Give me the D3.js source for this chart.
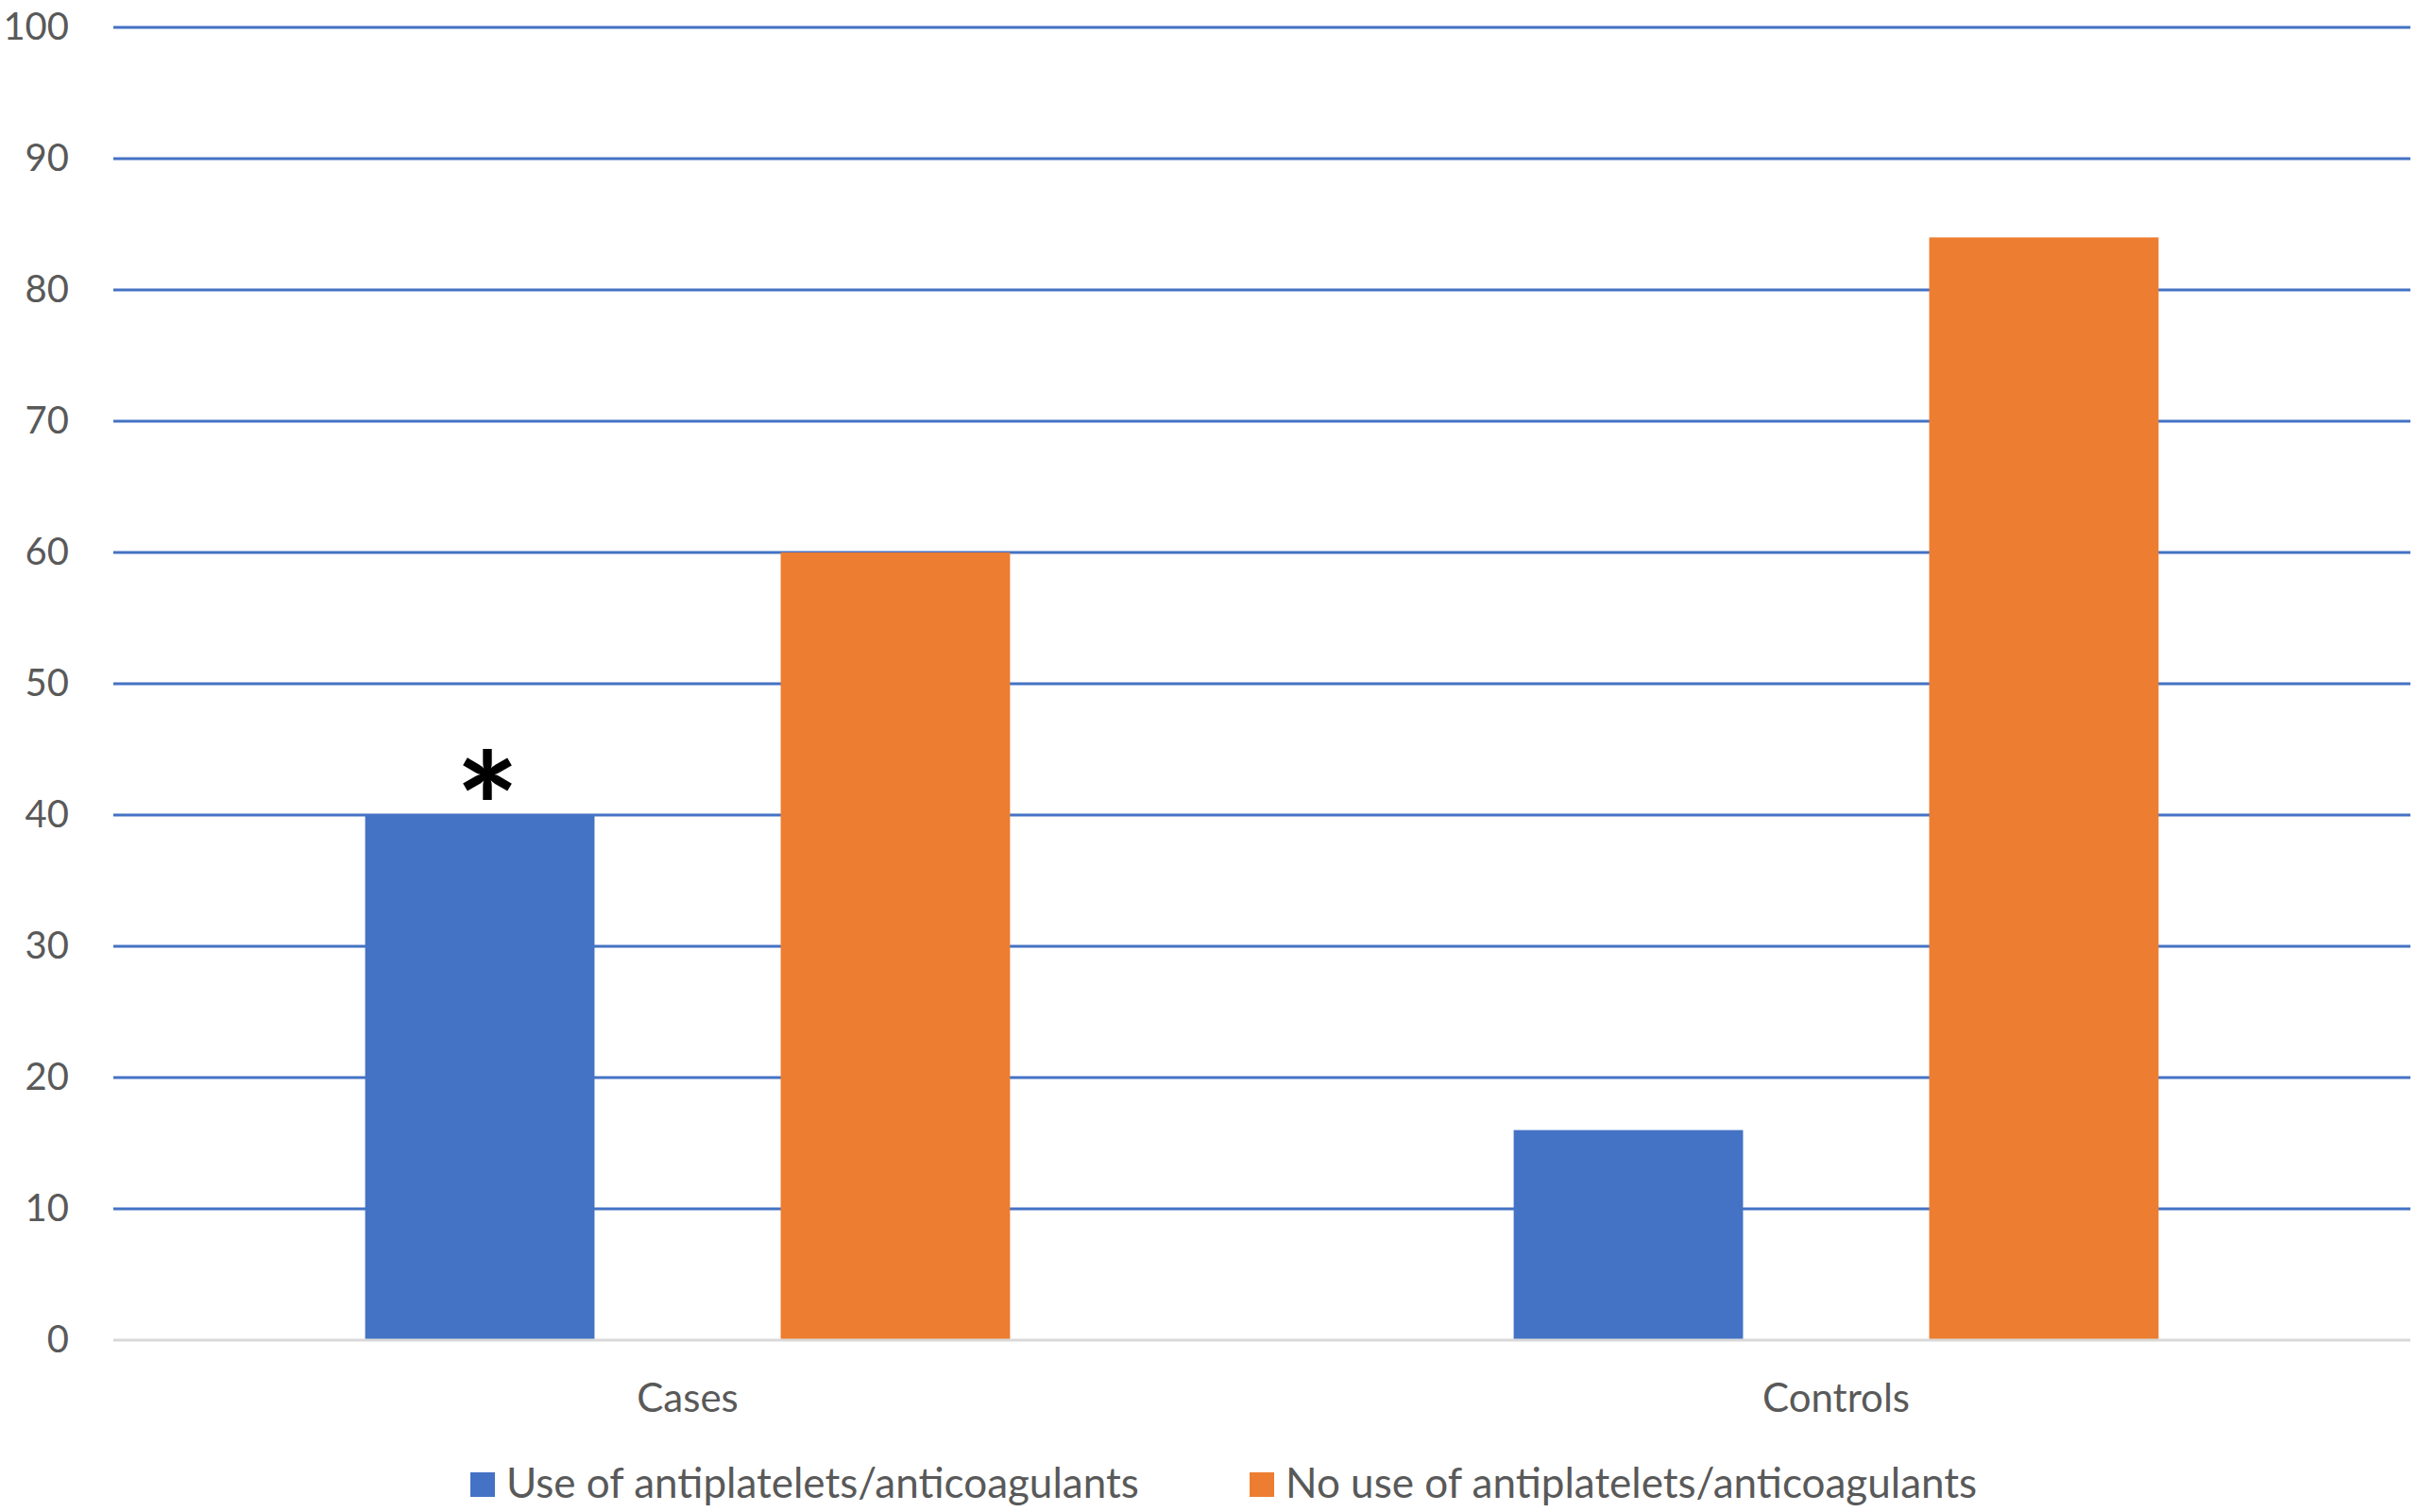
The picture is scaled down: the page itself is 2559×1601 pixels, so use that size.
<!DOCTYPE html>
<html>
<head>
<meta charset="utf-8">
<script src="https://cdn.jsdelivr.net/npm/d3@7"></script>
<style>
  body { margin: 0; background: #fff; }
  text { font-family: Lato, "Open Sans", sans-serif; }
</style>
</head>
<body>
<svg id="chart"></svg>
<script>
// data (percent)
var categories = ["Cases", "Controls"];
var seriesNames = ["Use of antiplatelets/anticoagulants", "No use of antiplatelets/anticoagulants"];
var useValues = [40, 16];
var noUseValues = [60, 84];
var yTicks = [0, 10, 20, 30, 40, 50, 60, 70, 80, 90, 100];
var starred = [{ category: "Cases", series: 0, mark: "*" }];

var colors = ["#4472C4", "#ED7D31"];

var svgWidth = 2559, svgHeight = 1601;
var margin = { top: 29, right: 7, bottom: 182, left: 120 };
var width = svgWidth - margin.left - margin.right;
var height = svgHeight - margin.top - margin.bottom;

var svg = d3.select("#chart").attr("width", svgWidth).attr("height", svgHeight);
var g = svg.append("g").attr("transform", "translate(" + margin.left + "," + margin.top + ")");

var rows = categories.map(function(c, i) {
  return { category: c, values: [useValues[i], noUseValues[i]] };
});

var x0 = d3.scaleBand().domain(categories).range([0, width]).padding(0);
var x1 = d3.scaleBand().domain([0, 1]).range([0, x0.bandwidth()])
  .paddingInner(0.448).paddingOuter(0.606);
var y = d3.scaleLinear().domain([0, 100]).range([height, 0]);

// gridlines
g.append("g").selectAll("line").data(yTicks.filter(function(d) { return d > 0; }))
  .enter().append("line")
  .attr("x1", 0).attr("x2", width)
  .attr("y1", function(d) { return y(d); }).attr("y2", function(d) { return y(d); })
  .attr("stroke", "#4472C4").attr("stroke-width", 3);

// y labels
var yAxis = g.append("g").call(d3.axisLeft(y).tickValues(yTicks).tickSize(0).tickPadding(47));
yAxis.select(".domain").remove();
yAxis.selectAll("text").attr("fill", "#595959").style("font-size", "40px")
  .style("font-family", "Lato, sans-serif");

// bars
var groups = g.append("g").selectAll("g").data(rows).enter().append("g")
  .attr("transform", function(d) { return "translate(" + x0(d.category) + ",0)"; });

groups.selectAll("rect").data(function(d) { return d.values.map(function(v, i) { return { s: i, v: v }; }); })
  .enter().append("rect")
  .attr("x", function(d) { return x1(d.s); })
  .attr("width", x1.bandwidth())
  .attr("y", function(d) { return y(d.v); })
  .attr("height", function(d) { return height - y(d.v); })
  .attr("fill", function(d) { return colors[d.s]; });

// zero axis line
g.append("line").attr("x1", 0).attr("x2", width).attr("y1", height).attr("y2", height)
  .attr("stroke", "#D9D9D9").attr("stroke-width", 3);

// category labels
var xAxis = g.append("g").attr("transform", "translate(0," + height + ")")
  .call(d3.axisBottom(x0).tickSize(0).tickPadding(46));
xAxis.select(".domain").remove();
xAxis.selectAll("text").attr("fill", "#595959").style("font-size", "42px")
  .style("font-family", "Lato, sans-serif");

// significance mark
g.selectAll(".star").data(starred).enter().append("text")
  .attr("class", "star")
  .attr("x", function(d) { return x0(d.category) + x1(d.series) + x1.bandwidth() / 2 + 8; })
  .attr("y", function(d) { return y(rows[categories.indexOf(d.category)].values[d.series]) + 51; })
  .attr("text-anchor", "middle")
  .style("font-size", "160px").style("font-weight", "bold").attr("fill", "#000")
  .text(function(d) { return d.mark; });

// legend
var legendX = [498, 1323];
var legend = svg.append("g").selectAll("g").data(seriesNames).enter().append("g")
  .attr("transform", function(d, i) { return "translate(" + legendX[i] + ",1559)"; });
legend.append("rect").attr("width", 26).attr("height", 26)
  .attr("fill", function(d, i) { return colors[i]; });
legend.append("text").attr("x", 38).attr("y", 27)
  .attr("fill", "#595959").style("font-size", "44px")
  .text(function(d) { return d; });
</script>
</body>
</html>
